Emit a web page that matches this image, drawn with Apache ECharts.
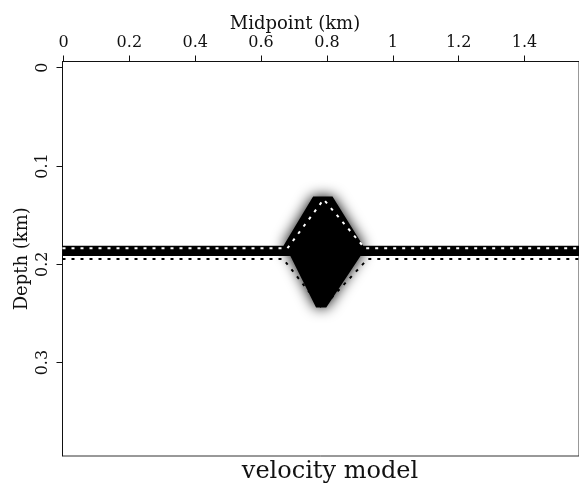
<!DOCTYPE html>
<html><head><meta charset="utf-8">
<script src="https://cdn.jsdelivr.net/npm/echarts@6/dist/echarts.min.js"></script>
<style>html,body{margin:0;padding:0;background:#fff}#c{width:579px;height:489px}</style>
</head><body><div id="c"></div>
<script>
// axis extents and tick labels (km)
const xRange = [-0.003, 1.5655];
const yRange = [-0.0063, 0.395];
const xTicks = [0, 0.2, 0.4, 0.6, 0.8, 1, 1.2, 1.4];
const yTicks = [0, 0.1, 0.2, 0.3];

// high-velocity layer (depth, km)
const layerX = [-0.003, 1.5655];
const layerDepth = [0.181, 0.1915];

// diamond-shaped anomaly (black body) vertices
const anomalyX =     [0.758, 0.817, 0.910, 0.902, 0.798, 0.767, 0.689, 0.668];
const anomalyDepth = [0.131, 0.131, 0.181, 0.1915, 0.244, 0.244, 0.1915, 0.181];

// dotted model outlines
const upperOutlineX =     [-0.003, 0.680, 0.790, 0.915, 1.5655];
const upperOutlineDepth = [0.1837, 0.1837, 0.134, 0.1837, 0.1837];
const lowerOutlineX =     [-0.003, 0.667, 0.785, 0.924, 1.5655];
const lowerOutlineDepth = [0.1945, 0.1945, 0.2445, 0.1945, 0.1945];

const chart = echarts.init(document.getElementById('c'), null, {renderer: 'canvas'});
const font = 'DejaVu Serif';

function polyRenderer(xs, ds, style) {
  return function (params, api) {
    const pts = xs.map((x, i) => api.coord([x, ds[i]]));
    return {type: 'polygon', shape: {points: pts}, style: style};
  };
}

chart.setOption({
  animation: false,
  backgroundColor: '#fff',
  title: [
    {text: 'velocity model', left: 325, top: 455, textAlign: 'center',
     textStyle: {fontFamily: font, fontSize: 24, fontWeight: 'normal', color: '#111'}},
    {text: 'Midpoint (km)', left: 290, top: 10, textAlign: 'center',
     textStyle: {fontFamily: font, fontSize: 18, fontWeight: 'normal', color: '#111'}}
  ],
  grid: {left: 62.5, top: 61.5, right: 0, bottom: 33, show: true, borderColor: '#333', borderWidth: 1, backgroundColor: 'transparent'},
  xAxis: {
    type: 'value', position: 'top', min: xRange[0], max: xRange[1],
    axisLine: {onZero: false, lineStyle: {color: '#111', width: 1}},
    axisTick: {customValues: xTicks, length: 6, lineStyle: {color: '#111'}},
    axisLabel: {customValues: xTicks, margin: 11, fontFamily: font, fontSize: 16, color: '#111'},
    splitLine: {show: false}
  },
  yAxis: {
    type: 'value', inverse: true, min: yRange[0], max: yRange[1],
    name: 'Depth (km)', nameLocation: 'middle', nameGap: 31, nameRotate: 90, nameMoveOverlap: false,
    nameTextStyle: {fontFamily: font, fontSize: 18, color: '#111'},
    axisLine: {onZero: false, lineStyle: {color: '#111', width: 1}},
    axisTick: {customValues: yTicks, length: 6, lineStyle: {color: '#111'}},
    axisLabel: {customValues: yTicks, rotate: 90, margin: 12, fontFamily: font, fontSize: 16, color: '#111'},
    splitLine: {show: false}
  },
  series: [
    {type: 'custom', z: 1, clip: true, silent: true, data: [0],
     renderItem: polyRenderer(
       [layerX[0], layerX[1], layerX[1], layerX[0]],
       [layerDepth[0], layerDepth[0], layerDepth[1], layerDepth[1]],
       {fill: '#000'})},
    {type: 'custom', z: 2, clip: true, silent: true, data: [0],
     renderItem: polyRenderer(anomalyX, anomalyDepth,
       {fill: '#000', shadowBlur: 14, shadowColor: '#000'})},
    {type: 'line', z: 3, silent: true, showSymbol: false, clip: true,
     data: upperOutlineX.map((x, i) => [x, upperOutlineDepth[i]]),
     lineStyle: {color: '#fff', width: 2, type: [3, 6]}},
    {type: 'line', z: 3, silent: true, showSymbol: false, clip: true,
     data: lowerOutlineX.map((x, i) => [x, lowerOutlineDepth[i]]),
     lineStyle: {color: '#000', width: 2, type: [3, 6]}}
  ]
});
</script></body></html>
